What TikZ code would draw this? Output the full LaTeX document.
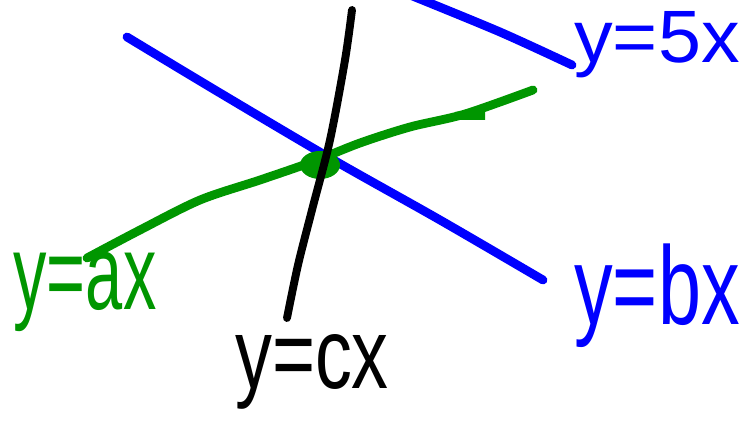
\documentclass[tikz,border=0pt]{standalone}
\usepackage{fontspec}
\setsansfont{Liberation Sans}
\usetikzlibrary{calc}
\definecolor{penblue}{RGB}{0,0,255}
\definecolor{pengreen}{RGB}{0,150,0}
\tikzset{
  stroke/.style={line width=5pt,line cap=round,line join=round},
  lbl/.style={font=\sffamily\fontsize{38}{38}\selectfont,inner sep=0pt,transform shape,yscale=1.6}
}
\begin{document}
\begin{tikzpicture}[x=0.02cm,y=-0.02cm]
\useasboundingbox (0,0) rectangle (751,435);
\clip (0,0) rectangle (751,435);
% the three lines
\draw[stroke,penblue] plot[smooth] coordinates {(127,37) (215,90) (330,158) (440,220) (543,280)};
\draw[stroke,penblue] plot[smooth] coordinates {(410,-5) (500,32) (572,65)};
\draw[stroke,pengreen] plot[smooth] coordinates {(87,258) (140,230) (200,200) (260,180) (312,162) (360,143) (410,127) (465,114) (533,90)};
\fill[pengreen] (320,165) ellipse (20 and 14);
\fill[pengreen] (455,112) -- (485,108) -- (485,120) -- (455,120) -- cycle;
\draw[stroke,black,line width=4.5pt] plot[smooth] coordinates {(352,10) (345,60) (330,140) (312,210) (298,265) (287,318)};
% labels
\node[lbl,pengreen] (ya) at (85,292) {y=ax};
\node[lbl,penblue,font=\sffamily\fontsize{44}{44}\selectfont,yscale=0.9] (yb) at (657,296) {y=bx};
\node[lbl,black,font=\sffamily\fontsize{42}{42}\selectfont,yscale=0.85] (yc) at (312,372) {y=cx};
\node[lbl,penblue,font=\sffamily\fontsize{44}{44}\selectfont,yscale=0.6] (y5) at (657,45) {y=5x};
\end{tikzpicture}
\end{document}
